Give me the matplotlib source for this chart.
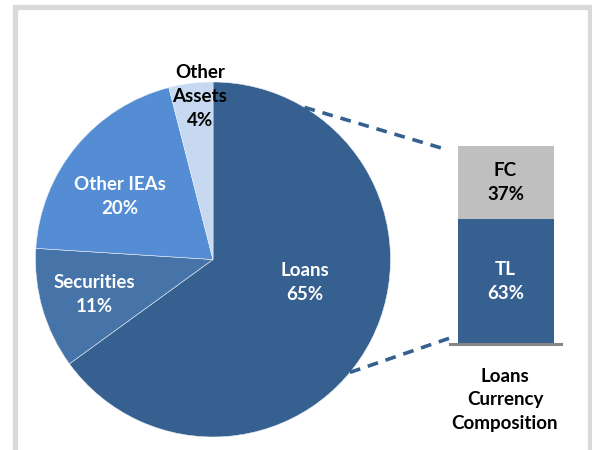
import matplotlib.pyplot as plt
import numpy as np
from matplotlib.patches import Rectangle

# pie: asset composition, bar: loans currency split
pie_labels = ['Loans', 'Securities', 'Other IEAs', 'Other\nAssets']
pie_values = [65, 11, 20, 4]
pie_colors = ['#36608F', '#4673A8', '#548DD4', '#C6D9F1']

bar_labels = ['TL', 'FC']
bar_values = [63, 37]
bar_colors = ['#36608F', '#BFBFBF']
bar_title = 'Loans\nCurrency\nComposition'

plt.rcParams['font.family'] = ['Lato', 'DejaVu Sans']
FS = 13.5

W, H = 592, 450
fig = plt.figure(figsize=(W / 100, H / 100), dpi=100)
ax = fig.add_axes([0, 0, 1, 1])

# grey frame
fig.patches.append(Rectangle((14.5 / W, -0.1), (589.5 - 14.5) / W, 1.1 - 7.5 / H,
                             transform=fig.transFigure, fill=False,
                             edgecolor='#D9D9D9', linewidth=3.8))

cx, cy, r = 213, 190.5, 177.5
ax.pie(pie_values, colors=pie_colors, startangle=90, counterclock=False,
       center=(cx, cy), radius=r, frame=True,
       wedgeprops=dict(linewidth=0.4, edgecolor='#E8EEF6'))
ax.set_xlim(0, W)
ax.set_ylim(0, H)
ax.set_aspect('equal')
ax.axis('off')

label_pos = [(305, 168), (94, 155), (120, 253), (200, 353)]
label_colors = ['white', 'white', 'white', 'black']
for lab, val, (x, y), c in zip(pie_labels, pie_values, label_pos, label_colors):
    ax.text(x, y, f'{lab}\n{val}%', ha='center', va='center', color=c,
            fontsize=FS, fontweight='bold', linespacing=1.5)

# connector lines
for ang, end in [(59, (448, 300)), (-39.5, (450, 112))]:
    sx = cx + r * np.cos(np.radians(ang))
    sy = cy + r * np.sin(np.radians(ang))
    ax.plot([sx, end[0]], [sy, end[1]], color='#36608F', linewidth=2.6,
            linestyle=(0, (3, 2.2)), solid_capstyle='butt')

# stacked bar
bx = fig.add_axes([450 / W, 106 / H, 111 / W, 198 / H])
bottom = 0
for lab, val, c in zip(bar_labels, bar_values, bar_colors):
    bx.bar(0, val, bottom=bottom, width=96 / 111, color=c)
    bx.text(0, bottom + val / 2, f'{lab}\n{val}%', ha='center', va='center',
            color='white' if lab == 'TL' else 'black',
            fontsize=FS, fontweight='bold', linespacing=1.5)
    bottom += val
bx.set_xlim(-0.5, 0.5)
bx.set_ylim(0, 100)
bx.axis('off')
bx.axhline(0, color='#868686', linewidth=2.2, clip_on=False)

ax.text(505, 50, bar_title, ha='center', va='center', fontsize=FS,
        fontweight='bold', linespacing=1.5)

fig.savefig('out.png', dpi=100)
